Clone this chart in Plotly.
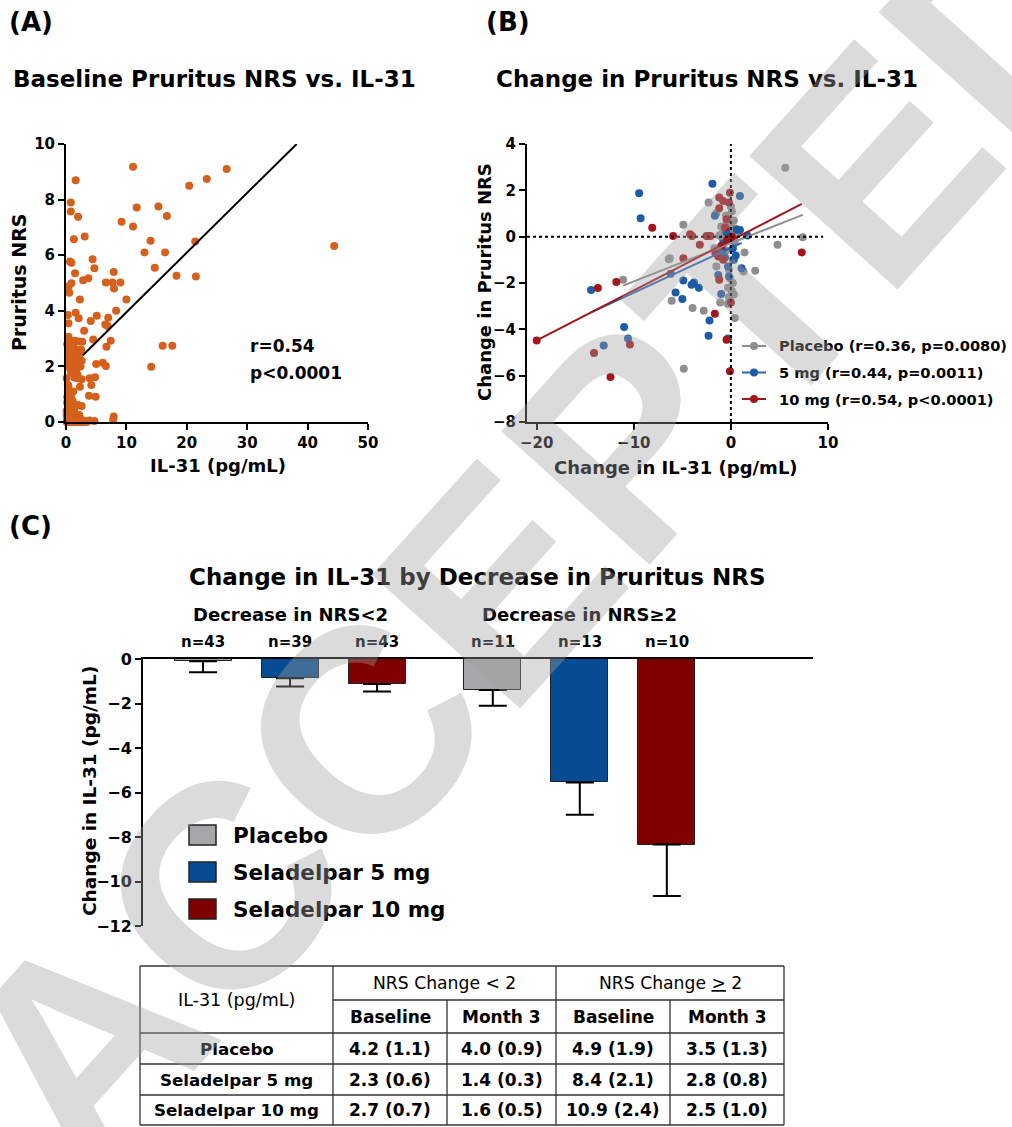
import plotly.graph_objects as go

W, H = 1012, 1127
def X(px): return px / W
def Y(py): return 1 - py / H

FONT = "DejaVu Sans, Verdana, sans-serif"
WM_FONT = "Liberation Sans, Arial, sans-serif"

# ---------------- Panel A data: baseline IL-31 vs pruritus NRS ----------------
il31_baseline = [11.1, 1.6, 0.8, 0.8, 2.0, 11.7, 15.3, 16.7, 9.2, 11.1, 20.4, 23.3, 26.6,
                 1.3, 3.1, 14.0, 13.0, 16.4, 21.4, 44.4, 0.66, 0.9, 4.4, 4.7, 1.5, 2.85, 3.7,
                 7.9, 6.6, 7.7, 9.0, 7.95, 14.7, 18.3, 21.5, 0.4, 0.9, 0.55, 2.3, 10.0,
                 0.3, 1.6, 2.1, 0.4, 4.1, 5.1, 7.0, 8.3, 6.5, 6.9, 3.0, 0.4, 0.66, 1.5, 2.7,
                 4.5, 7.4, 6.7, 16.0, 17.6, 14.1, 5.0, 6.1, 6.6, 0.28,
                 1.0, 1.3, 1.8, 2.2, 1.5, 2.0, 2.4, 1.1, 0.8, 1.7, 2.5, 0.5, 0.3, 1.2, 2.2,
                 1.9, 2.6, 0.6, 1.4, 0.2, 1.6, 2.1, 0.9, 1.3, 2.3,
                 0.1, 0.3, 0.3, 1.9, 2.6, 3.9, 4.8, 4.2, 2.3, 3.8, 4.9, 0.9, 2.0, 2.6, 0.7,
                 0.4, 1.2, 0.2, 0.1, 1.1,
                 0.1, 0.3, 0.5, 0.7, 0.9, 1.1, 1.3, 1.5, 1.7, 1.9, 2.1, 2.4, 2.8, 3.4, 3.9,
                 4.7, 7.8, 7.9, 0.2, 0.6, 1.0, 0.2, 0.5, 1.4, 0.8, 2.2, 0.1, 0.3, 0.4, 0.6,
                 1.0, 1.6, 0.2, 0.45, 2.9]
nrs_baseline = [9.18, 8.7, 7.9, 7.57, 7.38, 7.72, 7.75, 7.41, 7.2, 7.03, 8.5, 8.74, 9.1,
                6.57, 6.67, 6.52, 6.1, 6.1, 6.49, 6.33, 5.77, 5.73, 5.85, 5.53, 5.35, 5.1, 5.17,
                5.4, 5.02, 5.02, 5.02, 4.8, 5.55, 5.26, 5.23, 4.87, 4.99, 4.65, 4.41, 4.41,
                3.85, 3.93, 3.73, 3.55, 3.63, 3.82, 3.75, 4.0, 3.51, 3.45, 3.28, 3.07, 2.92, 2.92, 2.89,
                2.97, 2.92, 2.71, 2.74, 2.74, 1.99, 2.09, 2.13, 2.01, 1.99,
                2.5, 2.3, 2.6, 2.4, 2.0, 2.2, 2.0, 2.1, 1.8, 1.9, 2.6, 2.6, 2.4, 2.8, 2.9,
                1.7, 2.2, 2.2, 1.6, 2.8, 2.45, 2.55, 2.35, 1.95, 2.15,
                1.57, 1.33, 1.09, 1.57, 1.54, 1.57, 1.61, 1.33, 1.27, 0.94, 0.91, 0.85, 0.61, 0.58, 0.55,
                1.3, 1.1, 0.9, 0.4, 0.75,
                0.0, 0.1, 0.0, 0.2, 0.0, 0.1, 0.0, 0.3, 0.0, 0.1, 0.0, 0.0, 0.0, 0.0, 0.05,
                0.04, 0.07, 0.2, 0.4, 0.45, 0.35, 0.7, 0.9, 0.5, 0.15, 0.25, 0.25, 0.6, 0.0, 0.1,
                0.0, 0.05, 0.15, 0.2, 0.05]
fit_a_x = [2.8, 38.2]           # fitted line extent (pg/mL)
fit_a_coef = [1.80, 0.2147]     # intercept, slope

# ---------------- Panel B data: change in IL-31 vs change in NRS ----------------
pbo_dil31 = [5.6, -2.3, -1.5, -4.9, -1.0, -0.5, 0.1, 0.3, -0.3, 0.2, 0.5, -0.6, -1.2, -0.9,
             -0.2, 7.4, 4.8, -6.3, 1.4, -1.5, 1.3, 2.5, -0.2, -0.3, 0.1, 0.3, -0.2, -6.1,
             -3.95, -1.1, 0.4, -4.85, -11.1, -6.4, 0.0, -0.4, 0.4, -0.5, 0.2, -0.1, -0.8, 0.6,
             -1.7, 0.2, -0.3, 0.0, -2.8]
pbo_dnrs = [2.98, 1.47, 1.01, 0.51, 0.44, 0.9, 1.1, 0.7, 0.3, 0.1, 0.35, 0.0, 0.05, -0.05,
            0.0, -0.02, -0.35, -0.93, -0.68, -1.29, -1.5, -1.47, -1.43, -2.2, -2.35, -2.5, -2.6, -2.77,
            -3.08, -2.84, -3.51, -5.7, -1.86, -0.97, 1.3, 0.6, -0.2, -0.6, -1.0, -1.8, 0.2, 0.15,
            -0.5, -2.0, -2.9, 0.45, -3.2]
mg5_dil31 = [-14.4, -9.45, -9.3, -11.0, -10.6, -13.1, -1.9, 0.93, -1.65, 0.93, 0.5, -0.6, -0.3,
             1.1, -1.3, -0.2, -4.9, -4.05, -3.8, -5.7, -5.0, -1.0, -2.2, -2.3, -0.3, 0.6, -0.5,
             0.2, -0.8, 0.3, -6.2, -3.3, 1.7, -0.9]
mg5_dnrs = [-2.3, 1.87, 0.8, -3.9, -4.4, -4.7, 2.28, 1.76, 0.9, 0.29, -0.81, -0.9, -1.29,
            -1.36, -1.65, -1.72, -1.89, -2.08, -1.98, -2.41, -2.69, -2.48, -3.62, -4.28, -4.4, 0.3, 0.2,
            -0.5, -0.3, -1.0, -1.6, -2.2, 0.05, -0.6]
mg10_dil31 = [-20.0, -13.7, -11.8, -8.1, -10.4, -14.1, -12.4, -0.1, -1.2, -0.8, -0.2, -1.2,
              -0.45, -5.95, -4.2, -4.0, -2.5, -2.3, -2.1, -3.2, 7.3, -4.9, -1.3, -0.8, -1.2, 0.0,
              -1.65, -0.45, -0.1, -0.6, 0.1, -1.0, -0.4, -1.6]
mg10_dnrs = [-4.48, -2.22, -1.96, 0.39, -4.66, -5.02, -6.06, 1.9, 1.69, 1.54, 1.47, 1.23,
             0.75, 0.03, 0.1, 0.03, 0.03, 0.03, 0.03, -0.35, -0.68, -0.93, -0.86, -1.0, -1.86, -2.84,
             -3.33, -4.45, -5.81, 0.4, 0.0, -0.4, -0.15, -0.7]
fit_b_x = {"pbo": [-11.1, 7.4], "mg5": [-14.5, 1.1], "mg10": [-20.0, 7.3]}
fit_b_coef = {"pbo": [-0.28, 0.165], "mg5": [-0.48, 0.194], "mg10": [-0.164, 0.2158]}
legend_b = ["Placebo (r=0.36, p=0.0080)", "5 mg (r=0.44, p=0.0011)", "10 mg (r=0.54, p<0.0001)"]

# ---------------- Panel C data: change in IL-31 by NRS decrease ----------------
treatments = ["Placebo", "Seladelpar 5 mg", "Seladelpar 10 mg"]
groups = ["Decrease in NRS<2", "Decrease in NRS≥2"]
change_lt2 = [-0.10, -0.87, -1.12]
sem_lt2 = [0.50, 0.37, 0.34]
change_ge2 = [-1.39, -5.55, -8.34]
sem_ge2 = [0.71, 1.45, 2.31]
n_lt2 = [43, 39, 43]
n_ge2 = [11, 13, 10]
y_ticks_c = [0, -2, -4, -6, -8, -10, -12]

# ---------------- Table data ----------------
table_rows = ["Placebo", "Seladelpar 5 mg", "Seladelpar 10 mg"]
base_lt2 = ["4.2 (1.1)", "2.3 (0.6)", "2.7 (0.7)"]
m3_lt2 = ["4.0 (0.9)", "1.4 (0.3)", "1.6 (0.5)"]
base_ge2 = ["4.9 (1.9)", "8.4 (2.1)", "10.9 (2.4)"]
m3_ge2 = ["3.5 (1.3)", "2.8 (0.8)", "2.5 (1.0)"]

ORANGE = "#D5601C"
MK = {"pbo": "#8E8E8E", "mg5": "#1C5BA6", "mg10": "#A3151B"}
LN = {"pbo": "#8E8E8E", "mg5": "#2A64AE", "mg10": "#A3151B"}
BAR = ["#A6A6A8", "#064C93", "#7F0000"]

fig = go.Figure()

# Panel A
fig.add_trace(go.Scatter(x=il31_baseline, y=nrs_baseline, mode="markers", cliponaxis=False,
                         marker=dict(size=8, color=ORANGE), xaxis="x", yaxis="y", showlegend=False))
fa_y = [fit_a_coef[0] + fit_a_coef[1] * v for v in fit_a_x]
fig.add_trace(go.Scatter(x=fit_a_x, y=fa_y, mode="lines", line=dict(color="black", width=2),
                         xaxis="x", yaxis="y", showlegend=False))

# Panel B
for key, xs, ys in [("pbo", pbo_dil31, pbo_dnrs), ("mg5", mg5_dil31, mg5_dnrs), ("mg10", mg10_dil31, mg10_dnrs)]:
    fig.add_trace(go.Scatter(x=xs, y=ys, mode="markers", cliponaxis=False,
                             marker=dict(size=8, color=MK[key]), xaxis="x2", yaxis="y2", showlegend=False))
for key in ["pbo", "mg5", "mg10"]:
    b0, b1 = fit_b_coef[key]
    xx = fit_b_x[key]
    fig.add_trace(go.Scatter(x=xx, y=[b0 + b1 * v for v in xx], mode="lines",
                             line=dict(color=LN[key], width=2), xaxis="x2", yaxis="y2", showlegend=False))

# Panel C
for i, t in enumerate(treatments):
    xs = [1 + i + g * 3.33 for g in range(2)]
    fig.add_trace(go.Bar(x=xs, y=[change_lt2[i], change_ge2[i]], width=0.655,
                         marker=dict(color=BAR[i], line=dict(color="#222222", width=1)),
                         error_y=dict(type="data", symmetric=False, array=[0, 0],
                                      arrayminus=[sem_lt2[i], sem_ge2[i]],
                                      color="black", thickness=2, width=14),
                         xaxis="x3", yaxis="y3", showlegend=False, name=t))

def ax_common(size):
    return dict(showgrid=False, zeroline=False, showline=True, linecolor="black", linewidth=2,
                ticks="outside", ticklen=6, tickwidth=2, tickcolor="black", automargin=False,
                tickfont=dict(family=FONT, size=size, color="black", weight="bold"))

fig.update_layout(
    width=W, height=H, margin=dict(l=0, r=0, t=0, b=0, pad=0), autosize=False,
    plot_bgcolor="white", paper_bgcolor="white", bargap=0,
    xaxis=dict(domain=[X(66), X(368)], range=[0, 50], tickvals=[0, 10, 20, 30, 40, 50], anchor="y", **ax_common(15)),
    yaxis=dict(domain=[Y(422), Y(144)], range=[0, 10], tickvals=[0, 2, 4, 6, 8, 10], anchor="x", **ax_common(15)),
    xaxis2=dict(domain=[X(527), X(828)], range=[-21, 10], tickvals=[-20, -10, 0, 10], anchor="y2", **ax_common(15)),
    yaxis2=dict(domain=[Y(422), Y(144)], range=[-8, 4], tickvals=[-8, -6, -4, -2, 0, 2, 4], anchor="x2", **ax_common(15)),
    xaxis3=dict(domain=[X(143), X(813)], range=[0.31, 8.01], anchor="y3", side="top", showgrid=False,
                zeroline=False, showline=True, linecolor="black", linewidth=2, ticks="", showticklabels=False,
                automargin=False),
    yaxis3=dict(domain=[Y(926), Y(659)], range=[-12, 0], tickvals=y_ticks_c, anchor="x3", **ax_common(16)),
)

ann = []
def txt(s, px, py, size, bold=True, xanchor="center", angle=0, color="black"):
    ann.append(dict(text=s, x=X(px), y=Y(py), xref="paper", yref="paper", showarrow=False,
                    xanchor=xanchor, yanchor="middle", textangle=angle, borderpad=0,
                    font=dict(family=FONT, size=size, color=color, weight="bold" if bold else "normal")))

txt("(A)", 8, 22, 26, xanchor="left")
txt("(B)", 485, 22, 26, xanchor="left")
txt("(C)", 8, 526, 26, xanchor="left")
txt("Baseline Pruritus NRS vs. IL-31", 214, 79, 23)
txt("Change in Pruritus NRS vs. IL-31", 707, 79, 23)
txt("Pruritus NRS", 19, 283, 19, angle=-90)
txt("IL-31 (pg/mL)", 218, 465, 18)
txt("r=0.54", 249, 346, 17, xanchor="left")
txt("p<0.0001", 249, 373, 17, xanchor="left")
txt("Change in Pruritus NRS", 484, 282, 18, angle=-90)
txt("Change in IL-31 (pg/mL)", 676, 467, 18)

shapes = []
# Panel B reference lines (dotted)
shapes.append(dict(type="line", xref="x2", yref="y2", x0=0, x1=0, y0=-8, y1=4,
                   line=dict(color="black", width=2, dash="dot")))
shapes.append(dict(type="line", xref="x2", yref="y2", x0=-21, x1=9.5, y0=0, y1=0,
                   line=dict(color="black", width=2, dash="dot")))
# Panel B legend
for k, (key, lab) in enumerate(zip(["pbo", "mg5", "mg10"], legend_b)):
    py = 346 + k * 26.5
    shapes.append(dict(type="line", xref="paper", yref="paper", x0=X(742), x1=X(766), y0=Y(py), y1=Y(py),
                       line=dict(color=LN[key], width=2)))
    shapes.append(dict(type="circle", xref="paper", yref="paper", x0=X(750), x1=X(758), y0=Y(py + 4), y1=Y(py - 4),
                       fillcolor=MK[key], line=dict(width=0)))
    txt(lab, 778, py, 14.6, xanchor="left")

# Panel C texts
txt("Change in IL-31 by Decrease in Pruritus NRS", 477, 577, 23)
for g, (gname, ns) in enumerate(zip(groups, [n_lt2, n_ge2])):
    cx = [1 + i + g * 3.33 for i in range(3)]
    ann.append(dict(text=gname, x=sum(cx) / 3, y=Y(614), xref="x3", yref="paper", showarrow=False,
                    xanchor="center", yanchor="middle",
                    font=dict(family=FONT, size=18, color="black", weight="bold")))
    for xv, n in zip(cx, ns):
        ann.append(dict(text=f"n={n}", x=xv, y=Y(642), xref="x3", yref="paper", showarrow=False,
                        xanchor="center", yanchor="middle",
                        font=dict(family=FONT, size=15, color="black", weight="bold")))
txt("Change in IL-31 (pg/mL)", 89, 791, 18.5, angle=-90)
for i, t in enumerate(treatments):
    py = 835 + i * 37
    shapes.append(dict(type="rect", xref="paper", yref="paper", x0=X(189), x1=X(216), y0=Y(py + 10), y1=Y(py - 10),
                       fillcolor=BAR[i], line=dict(color="#222222", width=1.5)))
    txt(t, 232, py, 21.5, xanchor="left")

# Table
cols = [140, 333, 447, 556, 670, 784]
rows = [966, 1000, 1033, 1064, 1095, 1125]
LC = "#333333"
def hline(py, x0, x1):
    shapes.append(dict(type="line", xref="paper", yref="paper", x0=X(x0), x1=X(x1), y0=Y(py), y1=Y(py),
                       line=dict(color=LC, width=1.3)))
def vline(px, y0, y1):
    shapes.append(dict(type="line", xref="paper", yref="paper", x0=X(px), x1=X(px), y0=Y(y0), y1=Y(y1),
                       line=dict(color=LC, width=1.3)))
hline(rows[0], cols[0], cols[-1]); hline(rows[-1], cols[0], cols[-1])
hline(rows[1], cols[1], cols[-1])
for r in rows[2:5]:
    hline(r, cols[0], cols[-1])
vline(cols[0], rows[0], rows[-1]); vline(cols[-1], rows[0], rows[-1])
vline(cols[1], rows[0], rows[-1]); vline(cols[3], rows[0], rows[-1])
vline(cols[2], rows[1], rows[-1]); vline(cols[4], rows[1], rows[-1])

def cc(c): return (cols[c] + cols[c + 1]) / 2
def rc(r): return (rows[r] + rows[r + 1]) / 2
txt("IL-31 (pg/mL)", cc(0), (rows[0] + rows[2]) / 2, 17.5, bold=False)
txt("NRS Change &lt; 2", (cols[1] + cols[3]) / 2, rc(0), 17.2, bold=False)
txt("NRS Change <u>&gt;</u> 2", (cols[3] + cols[5]) / 2, rc(0), 17.2, bold=False)
for c, h in enumerate(["Baseline", "Month 3", "Baseline", "Month 3"]):
    txt(h, cc(c + 1), rc(1), 17)
for r, lab in enumerate(table_rows):
    txt(lab, cc(0), rc(r + 2), 16.7)
    for c, col in enumerate([base_lt2, m3_lt2, base_ge2, m3_ge2]):
        txt(col[r], cc(c + 1), rc(r + 2), 17)

# Watermark
ann.append(dict(text="ACCEPTED", x=X(545), y=Y(530), xref="paper", yref="paper", showarrow=False,
                xanchor="center", yanchor="middle",
                textangle=-48, font=dict(family=WM_FONT, size=290, weight="bold",
                                         color="rgba(160,160,160,0.38)")))

fig.update_layout(annotations=ann, shapes=shapes)
fig.write_html("out.html", config={"displayModeBar": False},
               post_script="document.body.style.margin='0';document.body.style.padding='0';"
                           "document.documentElement.style.overflow='hidden';")
